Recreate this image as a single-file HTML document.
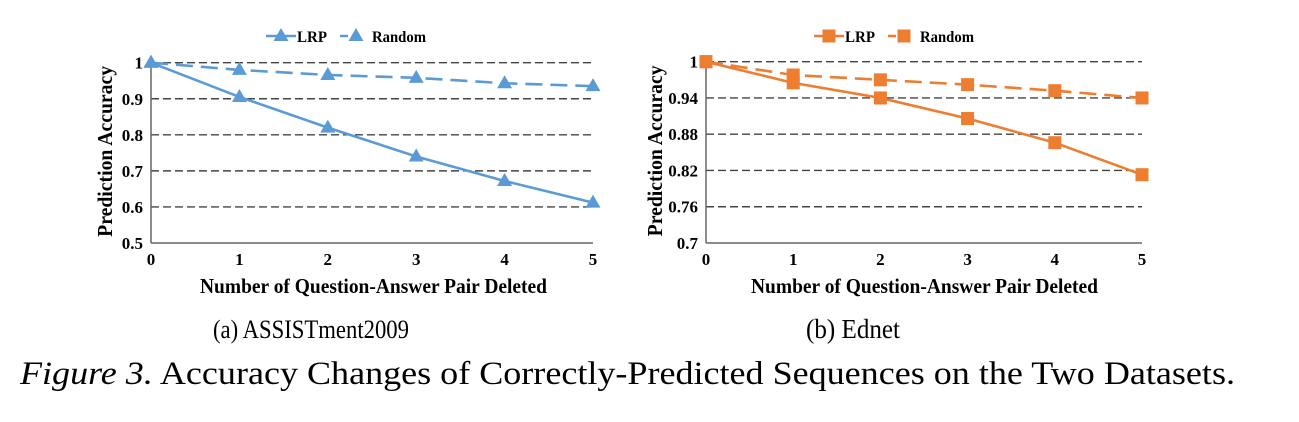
<!DOCTYPE html>
<html><head><meta charset="utf-8"><style>
body{margin:0;background:#fff;width:1299px;height:417px;overflow:hidden}
svg text{font-family:"Liberation Serif",serif}
</style></head><body>
<svg width="1299" height="417">
<g id="c1"></g>
<g id="c2"></g>
<text x="213" y="338" font-size="26" textLength="196" lengthAdjust="spacingAndGlyphs">(a) ASSISTment2009</text>
<text x="806" y="338" font-size="27" textLength="94" lengthAdjust="spacingAndGlyphs">(b) Ednet</text>
<text x="20" y="384" font-size="33" textLength="1215" lengthAdjust="spacingAndGlyphs"><tspan font-style="italic">Figure 3.</tspan> Accuracy Changes of Correctly-Predicted Sequences on the Two Datasets.</text>
</svg>
<script>
const categories=[0,1,2,3,4,5];
const lrp1=[1,0.905,0.82,0.74,0.672,0.612];
const rand1=[1,0.98,0.966,0.958,0.943,0.935];
const ticks1=[0.5,0.6,0.7,0.8,0.9,1];
const tickLabels1=["0.5","0.6","0.7","0.8","0.9","1"];
const lrp2=[1,0.965,0.94,0.906,0.866,0.813];
const rand2=[1,0.978,0.97,0.962,0.952,0.94];
const ticks2=[0.7,0.76,0.82,0.88,0.94,1];
const tickLabels2=["0.7","0.76","0.82","0.88","0.94","1"];
const NS="http://www.w3.org/2000/svg";
function mk(p,t,a){const e=document.createElementNS(NS,t);for(const k in a)e.setAttribute(k,a[k]);p.appendChild(e);return e;}
function marker(g,x,y,shape,color){
 if(shape==='tri'){const m=mk(g,'polygon',{points:`${x},${y-8} ${x-7.5},${y+5} ${x+7.5},${y+5}`,fill:color});
 }
 else{const m=mk(g,'rect',{x:x-6.5,y:y-6.5,width:13,height:13,fill:color});
 }
}
function draw(id,cfg){
 const g=document.getElementById(id);
 const X=i=>cfg.x0+(cfg.x1-cfg.x0)*(categories[i]-categories[0])/(categories[categories.length-1]-categories[0]);
 const ymin=cfg.ticks[0],ymax=cfg.ticks[cfg.ticks.length-1];
 const Y=v=>cfg.yb+(cfg.yt-cfg.yb)*(v-ymin)/(ymax-ymin);
 cfg.ticks.forEach((t,i)=>{
  if(i>0){const l=mk(g,'line',{x1:cfg.x0,x2:cfg.x1,y1:Y(t),y2:Y(t),stroke:'#444','stroke-width':1.4,'stroke-dasharray':'8,4'});
  }
  const tx=mk(g,'text',{x:cfg.x0-8,y:Y(t)+6,'font-size':17,'font-weight':'bold','text-anchor':'end'});tx.textContent=cfg.labels[i];
  
 });
 let a=mk(g,'line',{x1:cfg.x0,x2:cfg.x0,y1:cfg.yt,y2:cfg.yb,stroke:'#666','stroke-width':1.5});
 
 a=mk(g,'line',{x1:cfg.x0,x2:cfg.x1,y1:cfg.yb,y2:cfg.yb,stroke:'#666','stroke-width':1.5});
 
 categories.forEach((c,i)=>{const t=mk(g,'text',{x:X(i),y:cfg.yb+22,'font-size':17,'font-weight':'bold','text-anchor':'middle'});t.textContent=c;
 });
 let t=mk(g,'text',{x:cfg.xtx,y:cfg.yb+50,'font-size':21,'font-weight':'bold',textLength:347,lengthAdjust:'spacingAndGlyphs'});t.textContent='Number of Question-Answer Pair Deleted';
 
 const cy=(cfg.yt+cfg.yb)/2-1, tx0=cfg.ytx;
 t=mk(g,'text',{x:tx0,y:cy+85,'font-size':21,'font-weight':'bold',textLength:171,lengthAdjust:'spacingAndGlyphs',transform:`rotate(-90 ${tx0} ${cy+85})`});t.textContent='Prediction Accuracy';
 
 [[cfg.rand,'17,8','random'],[cfg.lrp,'','lrp']].forEach(([s,d,n])=>{
  const p=mk(g,'polyline',{points:s.map((v,i)=>X(i)+','+Y(v)).join(' '),fill:'none',stroke:cfg.color,'stroke-width':2.6,'stroke-dasharray':d});
  
  s.forEach((v,i)=>marker(g,X(i),Y(v),cfg.shape,cfg.color));
 });
 const lx=cfg.lx,ly=36;
 let l=mk(g,'line',{x1:lx,x2:lx+30,y1:ly,y2:ly,stroke:cfg.color,'stroke-width':2.6});
 marker(g,lx+15,ly,cfg.shape,cfg.color);
 t=mk(g,'text',{x:lx+31,y:ly+6,'font-size':16,'font-weight':'bold',textLength:30,lengthAdjust:'spacingAndGlyphs'});t.textContent='LRP';
 l=mk(g,'line',{x1:lx+74,x2:lx+96,y1:ly,y2:ly,stroke:cfg.color,'stroke-width':2.6,'stroke-dasharray':'8,4'});
 marker(g,lx+90,ly,cfg.shape,cfg.color);
 t=mk(g,'text',{x:lx+106,y:ly+6,'font-size':16,'font-weight':'bold',textLength:54,lengthAdjust:'spacingAndGlyphs'});t.textContent='Random';
}
draw('c1',{x0:151,x1:593,yt:62.7,yb:243,ticks:ticks1,labels:tickLabels1,lrp:lrp1,rand:rand1,color:'#5B9BD5',shape:'tri',lx:266,xtx:200,ytx:112});
draw('c2',{x0:706,x1:1142,yt:61.7,yb:243,ticks:ticks2,labels:tickLabels2,lrp:lrp2,rand:rand2,color:'#ED7D31',shape:'sq',lx:814,xtx:751,ytx:662});
</script>
</body></html>
